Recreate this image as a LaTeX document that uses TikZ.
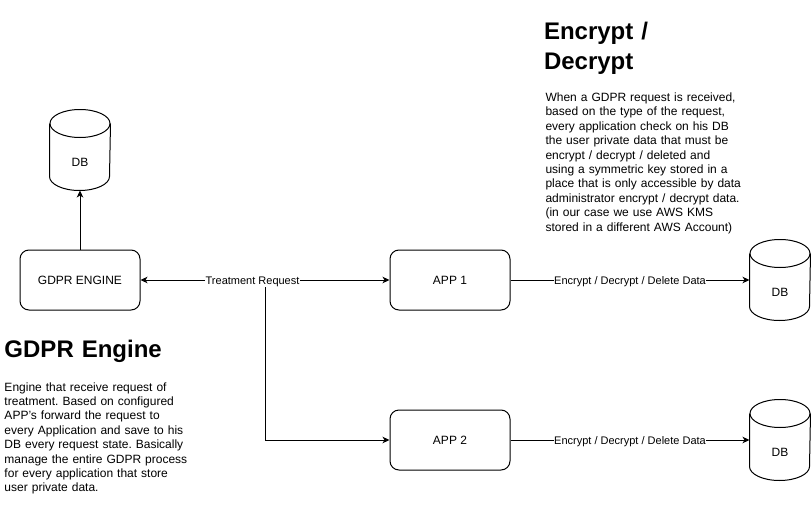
\documentclass[tikz,border=0pt]{standalone}
\usepackage{fontspec}
\setmainfont{Liberation Sans}
\usetikzlibrary{arrows.meta}
\frenchspacing

\begin{document}
\begin{tikzpicture}[x=1pt,y=-1pt,line width=1pt,
    >={Stealth[length=7pt,width=6.5pt,inset=2pt]},
    appbox/.style={draw,rounded corners=9pt,minimum width=120pt,minimum height=60pt,
        font=\fontsize{12}{14.4}\selectfont},
    dbnode/.style={minimum width=60pt,minimum height=80pt,inner sep=0pt,
        label={[font=\fontsize{12}{14.4}\selectfont,yshift=-12pt]center:DB}},
    lbl/.style={fill=white,inner sep=0.5pt,yshift=-1.5pt,font=\fontsize{11}{13}\selectfont},
    heading/.style={anchor=base west,inner sep=0pt,align=left,text width=250pt,
        font=\fontsize{24}{29.5}\selectfont\bfseries},
    bodytext/.style={anchor=base west,inner sep=0pt,align=left,text width=250pt,
        font=\fontsize{12}{14.4}\selectfont}]
    \useasboundingbox (0,0) rectangle (811,511);

    % Engine and its DB
    \node[appbox] (engine) at (80,280) {GDPR ENGINE};
    \node[dbnode] (db0) at (80,150) {};

    % Applications and their DBs
    \node[appbox] (app1) at (450,280) {APP 1};
    \node[appbox] (app2) at (450,440) {APP 2};
    \node[dbnode] (db1) at (780,280) {};
    \node[dbnode] (db2) at (780,440) {};

    % Cylinder outlines
    \foreach \n in {db0,db1,db2}{
        \draw ([yshift=-14pt]\n.north west) -- ([yshift=14pt]\n.south west)
            arc[start angle=180,end angle=360,x radius=30pt,y radius=14pt]
            -- ([yshift=-14pt]\n.north east);
        \draw ([yshift=-14pt]\n.north) ellipse[x radius=30pt,y radius=14pt];
    }

    % Connectors
    \draw[->] (engine) -- (db0);
    \coordinate (split) at (265,280);
    \draw[->] (split) |- (app2);
    \draw[<->] (engine) -- node[lbl,pos=0.45] {Treatment Request} (app1);
    \draw[->] (app1) -- node[lbl] {Encrypt / Decrypt / Delete Data} (db1);
    \draw[->] (app2) -- node[lbl] {Encrypt / Decrypt / Delete Data} (db2);

    % Notes
    \node[heading] (engtitle) at (4,357.5) {GDPR Engine};
    \node[bodytext] (engtext) at (4,391) {Engine that receive request of\\treatment. Based on configured\\APP's forward the request to\\every Application and save to his\\DB every request state. Basically\\manage the entire GDPR process\\for every application that store\\user private data.};
    \node[heading] (enctitle) at (543.5,40) {Encrypt /\\Decrypt};
    \node[bodytext] (enctext) at (545,101.5) {When a GDPR request is received,\\based on the type of the request,\\every application check on his DB\\the user private data that must be\\encrypt / decrypt / deleted and\\using a symmetric key stored in a\\place that is only accessible by data\\administrator encrypt / decrypt data.\\(in our case we use AWS KMS\\stored in a different AWS Account)};
\end{tikzpicture}
\end{document}
